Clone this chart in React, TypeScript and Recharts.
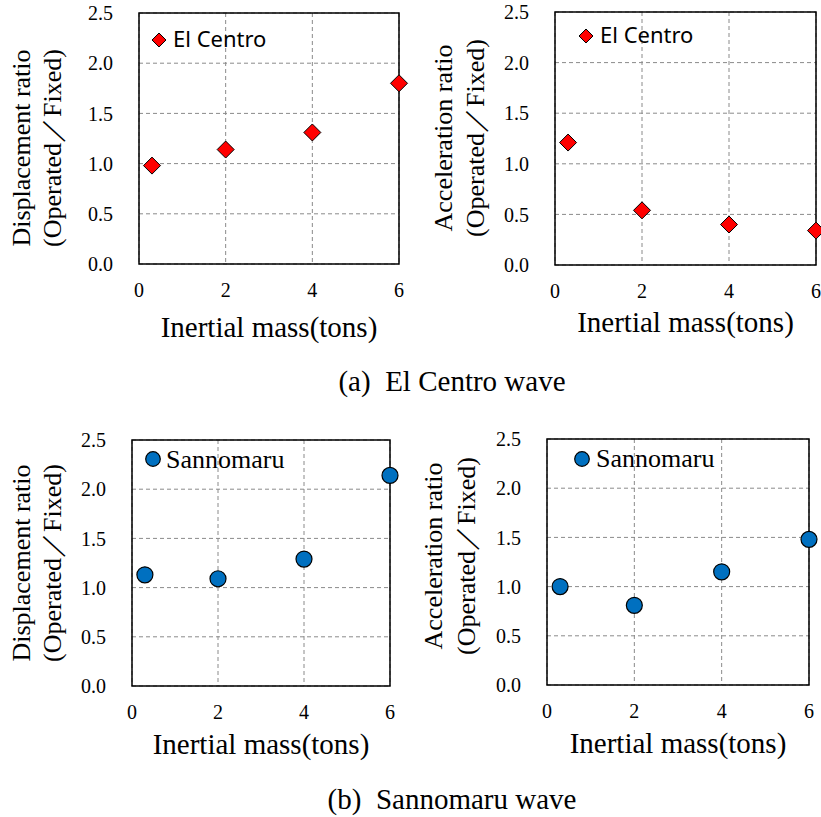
import {
  ScatterChart,
  Scatter,
  XAxis,
  YAxis,
  CartesianGrid,
  ReferenceArea,
  Legend,
  Label,
} from "recharts";

// inertial mass (tons) on the x axis
const MASS = [0.3, 2, 4, 6];

// ratios
const ELCENTRO_DISP = [0.98, 1.14, 1.31, 1.8];
const ELCENTRO_ACC = [1.21, 0.54, 0.4, 0.34];
const SANNOMARU_DISP = [1.13, 1.09, 1.29, 2.14];
const SANNOMARU_ACC = [1.0, 0.81, 1.15, 1.48];

const X_TICKS = [0, 2, 4, 6];
const Y_TICKS = [0, 0.5, 1, 1.5, 2, 2.5];

const X_TITLE = "Inertial mass(tons)";
const DISP_TITLE = ["Displacement ratio", "(Operated／Fixed)"];
const ACC_TITLE = ["Acceleration ratio", "(Operated／Fixed)"];
const CAPTIONS = ["(a)  El Centro wave", "(b)  Sannomaru wave"];

const SERIF = '"Liberation Serif", "Times New Roman", serif';
const SANS = '"Noto Sans", "Open Sans", sans-serif';

type Kind = "diamond" | "circle";

function Diamond(props: any) {
  const { cx, cy } = props;
  const r = 8.5;
  return (
    <polygon
      points={`${cx},${cy - r} ${cx + r},${cy} ${cx},${cy + r} ${cx - r},${cy}`}
      fill="#FF0000"
      stroke="#000"
      strokeWidth={1}
    />
  );
}

function Dot(props: any) {
  const { cx, cy } = props;
  return <circle cx={cx} cy={cy} r={8} fill="#0070C0" stroke="#000" strokeWidth={1.2} />;
}

interface PanelProps {
  box: { left: number; top: number; width: number; height: number };
  plot: { l: number; t: number; r: number; b: number };
  name: string;
  kind: Kind;
  values: number[];
  yTitle: string[];
  yTitleX: [number, number];
  yTitleCy: number;
  xTitleY: number;
  legend: { mx: number; my: number; tx: number; ty: number };
}

const tickStyle = { fill: "#000", fontSize: 20, fontFamily: SERIF, style: { fontFamily: SERIF } };

function Panel(p: PanelProps) {
  const { box, plot } = p;
  const data = MASS.map((x, i) => ({ x, y: p.values[i] }));
  const yAxisWidth = plot.l - box.left;
  const xAxisHeight = box.top + box.height - plot.b;
  const xTitleCx = (plot.l + plot.r) / 2 - box.left;
  const lg = p.legend;
  const lgLeft = lg.mx - 12;
  const lgTop = lg.ty - 32;

  return (
    <div style={{ position: "absolute", left: box.left, top: box.top, fontFamily: SERIF }}>
      <ScatterChart
        width={box.width}
        height={box.height}
        style={{ fontFamily: SERIF }}
        margin={{
          top: plot.t - box.top,
          right: box.left + box.width - plot.r,
          left: 0,
          bottom: 0,
        }}
      >
        <CartesianGrid stroke="#8a8a8a" strokeDasharray="4 3" />
        <XAxis
          type="number"
          dataKey="x"
          domain={[0, 6]}
          ticks={X_TICKS}
          axisLine={false}
          tickLine={false}
          tickSize={0}
          tickMargin={19}
          height={xAxisHeight}
          tick={tickStyle}
        >
          <Label
            content={() => (
              <text
                x={xTitleCx}
                y={p.xTitleY}
                textAnchor="middle"
                fontSize={29}
                fill="#000"
                style={{ fontFamily: SERIF }}
              >
                {X_TITLE}
              </text>
            )}
          />
        </XAxis>
        <YAxis
          type="number"
          dataKey="y"
          domain={[0, 2.5]}
          ticks={Y_TICKS}
          tickFormatter={(v: number) => v.toFixed(1)}
          axisLine={false}
          tickLine={false}
          tickSize={0}
          tickMargin={26}
          width={yAxisWidth}
          tick={tickStyle}
        >
          <Label
            content={() => (
              <g>
                {p.yTitle.map((line, i) => (
                  <text
                    key={line}
                    x={p.yTitleX[i]}
                    y={p.yTitleCy}
                    textAnchor="middle"
                    fontSize={26}
                    fill="#000"
                    style={{ fontFamily: SERIF }}
                    transform={`rotate(-90 ${p.yTitleX[i]} ${p.yTitleCy})`}
                  >
                    {line}
                  </text>
                ))}
              </g>
            )}
          />
        </YAxis>
        <ReferenceArea
          x1={0}
          x2={6}
          y1={0}
          y2={2.5}
          fill="none"
          fillOpacity={0}
          stroke="#000"
          strokeWidth={1.5}
        />
        <Legend
          layout="vertical"
          align="center"
          verticalAlign="middle"
          wrapperStyle={{ left: lgLeft, top: lgTop, width: 160, height: 44 }}
          content={(lp: any) => {
            const label = lp.payload && lp.payload[0] ? lp.payload[0].value : p.name;
            const mx = lg.mx - lgLeft;
            const my = lg.my - lgTop;
            return (
              <svg width={160} height={44} style={{ display: "block" }}>
                {p.kind === "diamond" ? (
                  <polygon
                    points={`${mx},${my - 7} ${mx + 7},${my} ${mx},${my + 7} ${mx - 7},${my}`}
                    fill="#FF0000"
                    stroke="#000"
                    strokeWidth={1}
                  />
                ) : (
                  <circle cx={mx} cy={my} r={7.3} fill="#0070C0" stroke="#000" strokeWidth={1.2} />
                )}
                <text
                  x={lg.tx - lgLeft}
                  y={lg.ty - lgTop}
                  fontSize={p.kind === "diamond" ? 22 : 26}
                  fill="#000"
                  style={{ fontFamily: p.kind === "diamond" ? SANS : SERIF }}
                >
                  {label}
                </text>
              </svg>
            );
          }}
        />
        <Scatter
          name={p.name}
          data={data}
          shape={p.kind === "diamond" ? Diamond : Dot}
          isAnimationActive={false}
        />
      </ScatterChart>
    </div>
  );
}

export default function App() {
  return (
    <div
      style={{
        position: "absolute",
        left: 0,
        top: 0,
        width: 821,
        height: 817,
        background: "#fff",
        overflow: "hidden",
        fontFamily: SERIF,
      }}
    >
      <Panel
        box={{ left: 0, top: 0, width: 410, height: 345 }}
        plot={{ l: 139, t: 13, r: 399, b: 264 }}
        name="El Centro"
        kind="diamond"
        values={ELCENTRO_DISP}
        yTitle={DISP_TITLE}
        yTitleX={[30, 61]}
        yTitleCy={148}
        xTitleY={337}
        legend={{ mx: 159, my: 40, tx: 173, ty: 47 }}
      />
      <Panel
        box={{ left: 410, top: 0, width: 411, height: 345 }}
        plot={{ l: 555, t: 12, r: 816, b: 265 }}
        name="El Centro"
        kind="diamond"
        values={ELCENTRO_ACC}
        yTitle={ACC_TITLE}
        yTitleX={[42, 74]}
        yTitleCy={138}
        xTitleY={332}
        legend={{ mx: 176, my: 36, tx: 190, ty: 43 }}
      />
      <Panel
        box={{ left: 0, top: 420, width: 410, height: 345 }}
        plot={{ l: 132, t: 440, r: 390, b: 686 }}
        name="Sannomaru"
        kind="circle"
        values={SANNOMARU_DISP}
        yTitle={DISP_TITLE}
        yTitleX={[30, 61]}
        yTitleCy={143}
        xTitleY={334}
        legend={{ mx: 153, my: 39, tx: 166, ty: 48 }}
      />
      <Panel
        box={{ left: 410, top: 420, width: 411, height: 345 }}
        plot={{ l: 547, t: 439, r: 809, b: 685 }}
        name="Sannomaru"
        kind="circle"
        values={SANNOMARU_ACC}
        yTitle={ACC_TITLE}
        yTitleX={[32, 65]}
        yTitleCy={136}
        xTitleY={333}
        legend={{ mx: 172, my: 39, tx: 186, ty: 47 }}
      />
      <svg
        width={821}
        height={817}
        style={{ position: "absolute", left: 0, top: 0, pointerEvents: "none" }}
      >
        <text x={452} y={391} textAnchor="middle" fontSize={29} style={{ whiteSpace: "pre", fontFamily: SERIF }}>
          {CAPTIONS[0]}
        </text>
        <text x={452} y={809} textAnchor="middle" fontSize={29} style={{ whiteSpace: "pre", fontFamily: SERIF }}>
          {CAPTIONS[1]}
        </text>
      </svg>
    </div>
  );
}
